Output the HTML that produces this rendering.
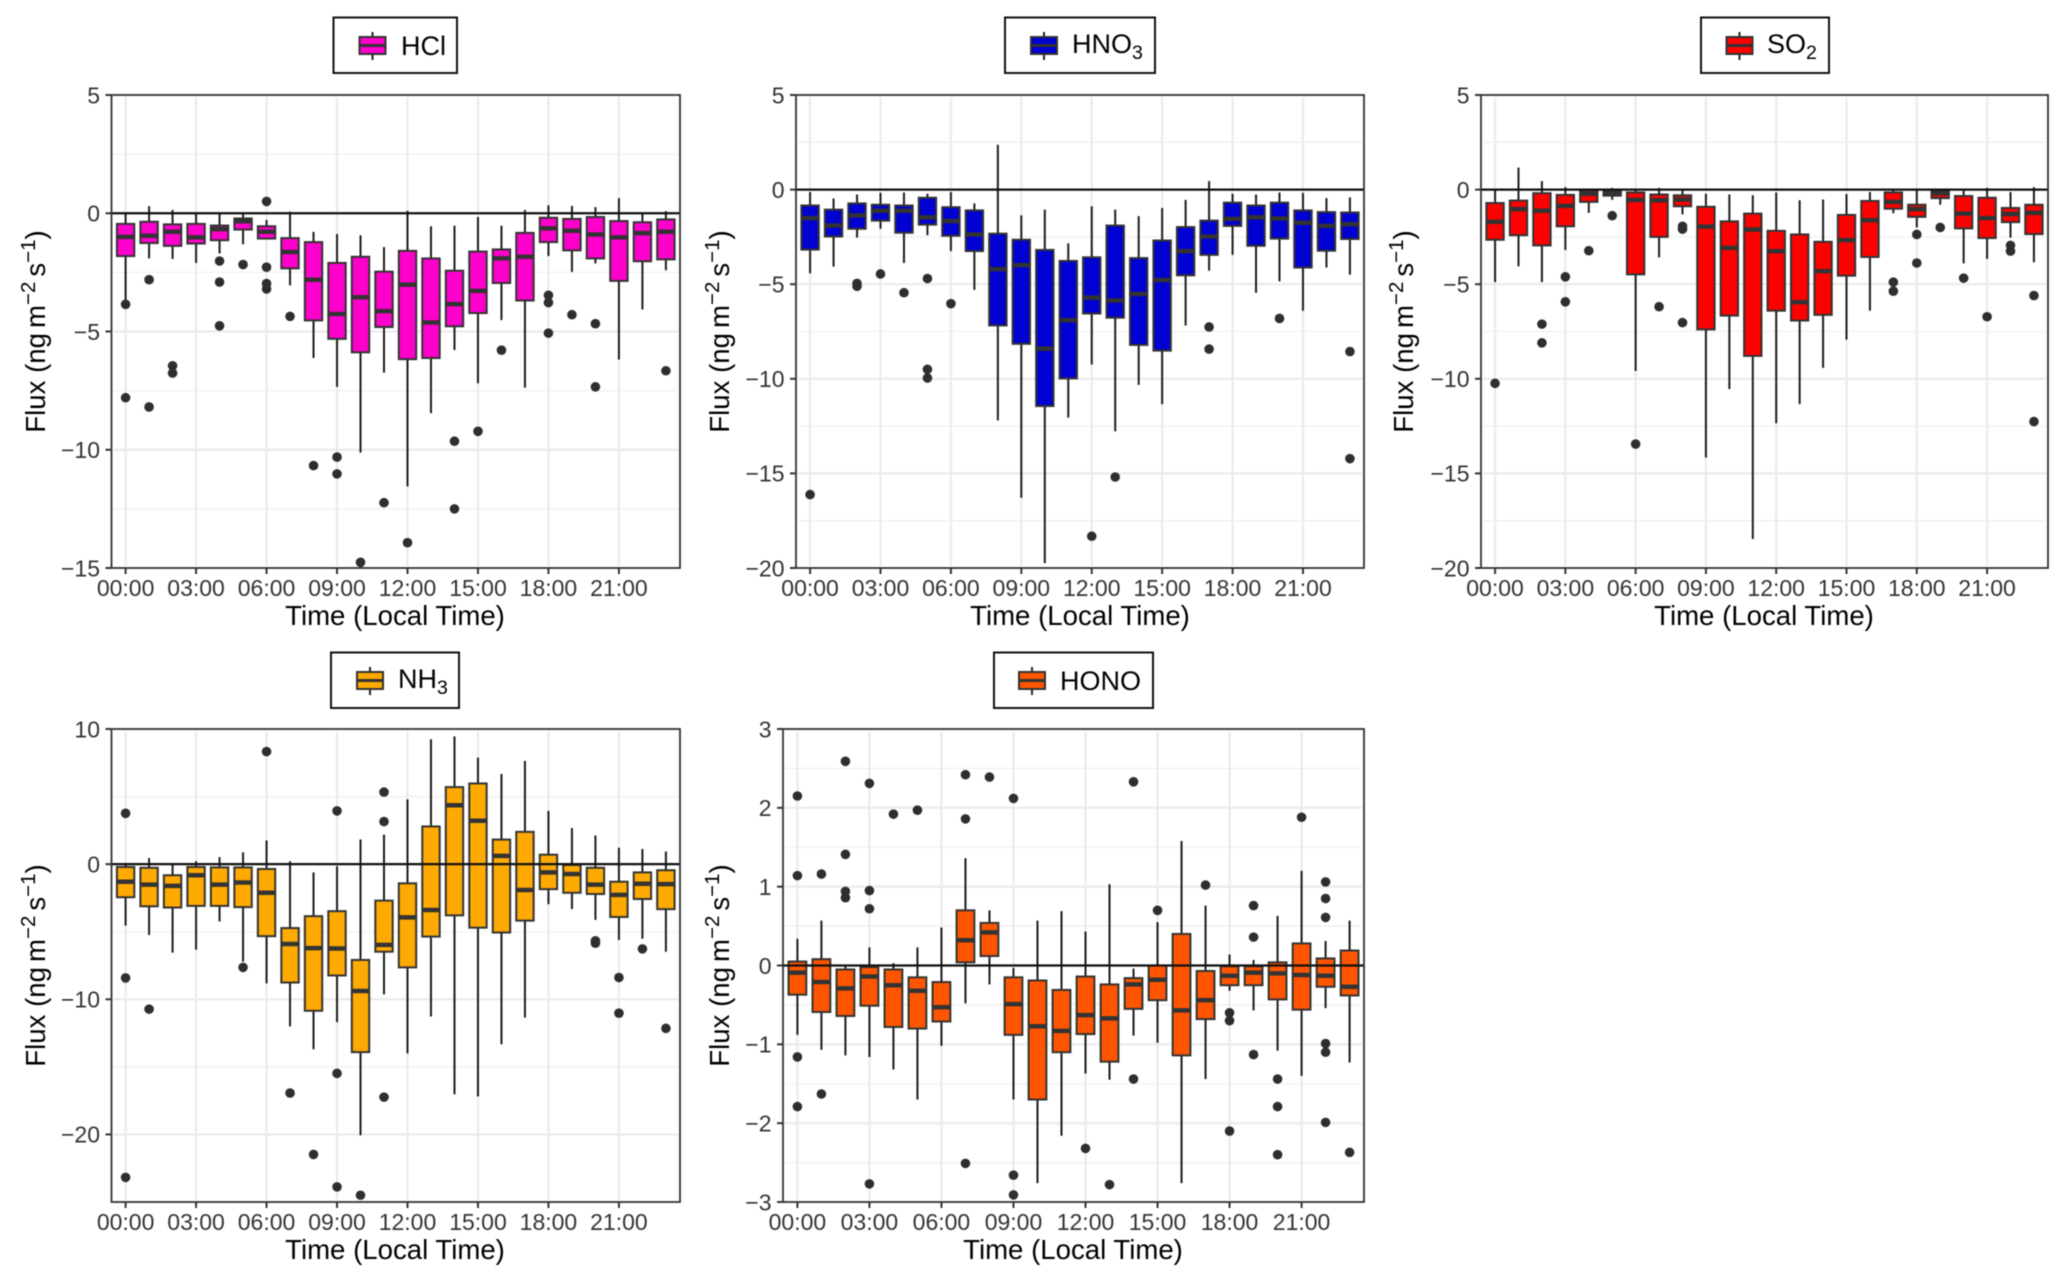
<!DOCTYPE html>
<html lang="en">
<head>
<meta charset="utf-8">
<title>Diurnal flux box plots</title>
<style>
html,body{margin:0;padding:0;background:#fff;}
svg{display:block;font-family:"Liberation Sans",Arial,sans-serif;filter:blur(0.45px);}
.legend-frame{fill:#fff;stroke:#111;stroke-width:2;}
.legend-text{font-size:27px;fill:#000;}
.axis-title{font-size:27.6px;fill:#000;}
</style>
</head>
<body>
<svg id="chart" xmlns="http://www.w3.org/2000/svg" width="2067" height="1283" viewBox="0 0 2067 1283">
  <rect width="2067" height="1283" fill="#fff"/>

  <g>
    <g id="plot-hcl"></g>
    <g>
      <rect class="legend-frame" x="333.5" y="17.5" width="123.5" height="55.5"/>
      <line x1="372.5" x2="372.5" y1="32" y2="60" stroke="#222" stroke-width="2"/>
      <rect x="359.5" y="37" width="26" height="17" fill="#ff00cc" stroke="#333" stroke-width="2"/>
      <line x1="359.5" x2="385.5" y1="45.5" y2="45.5" stroke="#333" stroke-width="3"/>
      <text class="legend-text" x="401" y="55">HCl</text>
    </g>
    <text class="axis-title" text-anchor="middle" transform="translate(45 331.5) rotate(-90)">Flux (ng<tspan dx="5">m</tspan><tspan dy="-10" font-size="20.5">−2</tspan><tspan dy="10" dx="5">s</tspan><tspan dy="-10" font-size="20.5">−1</tspan><tspan dy="10">)</tspan></text>
    <text class="axis-title" text-anchor="middle" x="395" y="625">Time (Local Time)</text>
  </g>

  <g>
    <g id="plot-hno3"></g>
    <g>
      <rect class="legend-frame" x="1005" y="17.5" width="150" height="55.5"/>
      <line x1="1044" x2="1044" y1="32" y2="60" stroke="#222" stroke-width="2"/>
      <rect x="1031" y="37" width="26" height="17" fill="#0000d2" stroke="#333" stroke-width="2"/>
      <line x1="1031" x2="1057" y1="45.5" y2="45.5" stroke="#333" stroke-width="3"/>
      <text class="legend-text" x="1072" y="53">HNO<tspan dy="6" font-size="19.5">3</tspan></text>
    </g>
    <text class="axis-title" text-anchor="middle" transform="translate(729 331.5) rotate(-90)">Flux (ng<tspan dx="5">m</tspan><tspan dy="-10" font-size="20.5">−2</tspan><tspan dy="10" dx="5">s</tspan><tspan dy="-10" font-size="20.5">−1</tspan><tspan dy="10">)</tspan></text>
    <text class="axis-title" text-anchor="middle" x="1080" y="625">Time (Local Time)</text>
  </g>

  <g>
    <g id="plot-so2"></g>
    <g>
      <rect class="legend-frame" x="1701" y="17.5" width="128" height="55.5"/>
      <line x1="1739.5" x2="1739.5" y1="32" y2="60" stroke="#222" stroke-width="2"/>
      <rect x="1726.5" y="37" width="26" height="17" fill="#ff0000" stroke="#333" stroke-width="2"/>
      <line x1="1726.5" x2="1752.5" y1="45.5" y2="45.5" stroke="#333" stroke-width="3"/>
      <text class="legend-text" x="1767" y="53">SO<tspan dy="6" font-size="19.5">2</tspan></text>
    </g>
    <text class="axis-title" text-anchor="middle" transform="translate(1413 331.5) rotate(-90)">Flux (ng<tspan dx="5">m</tspan><tspan dy="-10" font-size="20.5">−2</tspan><tspan dy="10" dx="5">s</tspan><tspan dy="-10" font-size="20.5">−1</tspan><tspan dy="10">)</tspan></text>
    <text class="axis-title" text-anchor="middle" x="1764" y="625">Time (Local Time)</text>
  </g>

  <g>
    <g id="plot-nh3"></g>
    <g>
      <rect class="legend-frame" x="331" y="652.5" width="128" height="55.5"/>
      <line x1="370" x2="370" y1="667" y2="695" stroke="#222" stroke-width="2"/>
      <rect x="357" y="672" width="26" height="17" fill="#ffaa00" stroke="#333" stroke-width="2"/>
      <line x1="357" x2="383" y1="680.5" y2="680.5" stroke="#333" stroke-width="3"/>
      <text class="legend-text" x="398" y="688">NH<tspan dy="6" font-size="19.5">3</tspan></text>
    </g>
    <text class="axis-title" text-anchor="middle" transform="translate(45 965.5) rotate(-90)">Flux (ng<tspan dx="5">m</tspan><tspan dy="-10" font-size="20.5">−2</tspan><tspan dy="10" dx="5">s</tspan><tspan dy="-10" font-size="20.5">−1</tspan><tspan dy="10">)</tspan></text>
    <text class="axis-title" text-anchor="middle" x="395" y="1259">Time (Local Time)</text>
  </g>

  <g>
    <g id="plot-hono"></g>
    <g>
      <rect class="legend-frame" x="994" y="652.5" width="159" height="55.5"/>
      <line x1="1032" x2="1032" y1="667" y2="695" stroke="#222" stroke-width="2"/>
      <rect x="1019" y="672" width="26" height="17" fill="#ff5500" stroke="#333" stroke-width="2"/>
      <line x1="1019" x2="1045" y1="680.5" y2="680.5" stroke="#333" stroke-width="3"/>
      <text class="legend-text" x="1060" y="690">HONO</text>
    </g>
    <text class="axis-title" text-anchor="middle" transform="translate(729 965.5) rotate(-90)">Flux (ng<tspan dx="5">m</tspan><tspan dy="-10" font-size="20.5">−2</tspan><tspan dy="10" dx="5">s</tspan><tspan dy="-10" font-size="20.5">−1</tspan><tspan dy="10">)</tspan></text>
    <text class="axis-title" text-anchor="middle" x="1073" y="1259">Time (Local Time)</text>
  </g>
</svg>

<script>
/* shared x categories */
const hourCount = 24;
const xTickHours = [0, 3, 6, 9, 12, 15, 18, 21];
const xTickLabels = ["00:00", "03:00", "06:00", "09:00", "12:00", "15:00", "18:00", "21:00"];

/* HCl */
const hclTicks = [5, 0, -5, -10, -15];
const hclWhiskerHigh = [0, .3, .14, 0, 0, 0, -.29, .07, -.79, -.88, -.93, -1.43, .1, -.55, -.53, -.16, -.53, .14, .34, .31, .26, .64, .03, .09];
const hclQ3 = [-.45, -.36, -.47, -.45, -.52, -.22, -.55, -1.05, -1.22, -2.1, -1.84, -2.47, -1.59, -1.91, -2.43, -1.62, -1.53, -.83, -.19, -.24, -.16, -.33, -.38, -.26];
const hclMedian = [-1, -.95, -.78, -1.02, -.67, -.34, -.78, -1.64, -2.81, -4.26, -3.55, -4.14, -3.02, -4.62, -3.84, -3.28, -1.91, -1.84, -.64, -.74, -.9, -1.02, -.84, -.78];
const hclQ1 = [-1.81, -1.26, -1.38, -1.28, -1.14, -.69, -1.07, -2.33, -4.53, -5.31, -5.88, -4.81, -6.17, -6.12, -4.78, -4.22, -2.95, -3.69, -1.22, -1.57, -1.91, -2.86, -2.03, -1.95];
const hclWhiskerLow = [-3.8, -1.91, -1.93, -2.1, -1.7, -1.31, -1.07, -3.05, -6.12, -7.34, -10.12, -6.74, -11.55, -8.45, -5.78, -7.19, -4.52, -7.38, -1.81, -2.48, -2.12, -6.19, -4.07, -2.41];
const hclOutliers = [[-3.85, -7.8], [-2.81, -8.19], [-6.45, -6.76], [], [-2.02, -2.91, -4.76], [-2.17], [.5, -2.28, -2.97, -3.2], [-4.36], [-10.67], [-10.31, -11.02], [-14.76], [-12.24], [-13.93], [], [-9.64, -12.5], [-9.22], [-5.79], [], [-3.47, -3.78, -5.07], [-4.29], [-4.67, -7.34], [], [], [-6.66]];

/* HNO3 */
const hno3Ticks = [5, 0, -5, -10, -15, -20];
const hno3WhiskerHigh = [-.13, -.47, -.26, -.17, -.15, -.22, -.13, -.73, 2.37, -1.36, -1.06, -2.84, -.88, -1.06, -1.4, -.97, -.54, .45, -.22, -.26, -.15, -.17, -.45, -.41];
const hno3Q3 = [-.84, -1.06, -.73, -.8, -.84, -.43, -.93, -1.1, -2.33, -2.65, -3.19, -3.77, -3.58, -1.9, -3.62, -2.69, -1.98, -1.64, -.69, -.84, -.69, -1.1, -1.19, -1.21];
const hno3Median = [-1.51, -1.9, -1.36, -1.12, -1.12, -1.47, -1.66, -2.37, -4.2, -3.99, -8.41, -6.9, -5.71, -5.86, -5.52, -4.78, -3.25, -2.48, -1.55, -1.47, -1.53, -1.75, -1.92, -1.83];
const hno3Q1 = [-3.17, -2.48, -2.07, -1.64, -2.28, -1.85, -2.44, -3.25, -7.18, -8.15, -11.44, -9.98, -6.55, -6.77, -8.21, -8.51, -4.53, -3.45, -1.92, -2.97, -2.59, -4.12, -3.23, -2.61];
const hno3WhiskerLow = [-4.42, -4.07, -2.54, -2.07, -3.88, -2.41, -3.25, -5.3, -12.2, -16.29, -19.74, -12.05, -9.25, -12.78, -10.32, -11.34, -7.18, -4.29, -3.45, -5.45, -4.85, -6.4, -4.12, -4.5];
const hno3Outliers = [[-16.12], [], [-4.96, -5.11], [-4.46], [-5.45], [-4.7, -9.5, -9.96], [-6.03], [], [], [], [], [], [-18.32], [-15.19], [], [], [], [-7.26, -8.43], [], [], [-6.81], [], [], [-8.56, -14.22]];

/* SO2 */
const so2Ticks = [5, 0, -5, -10, -15, -20];
const so2WhiskerHigh = [0, 1.16, .45, .13, 0, .09, 0, .09, 0, -.22, -.26, -.3, -.15, -.56, -.52, -.24, -.13, 0, 0, 0, -.04, .09, -.13, .13];
const so2Q3 = [-.71, -.58, -.19, -.28, -.04, 0, -.15, -.26, -.3, -.91, -1.68, -1.27, -2.18, -2.37, -2.76, -1.34, -.6, -.15, -.8, -.04, -.34, -.43, -.97, -.8];
const so2Median = [-1.7, -1.03, -1.12, -.86, -.22, -.17, -.54, -.56, -.52, -1.96, -3.08, -2.11, -3.25, -5.95, -4.31, -2.67, -1.62, -.65, -1.03, -.2, -1.27, -1.51, -1.29, -1.23];
const so2Q1 = [-2.65, -2.41, -2.95, -1.94, -.65, -.32, -4.48, -2.5, -.88, -7.39, -6.66, -8.79, -6.4, -6.92, -6.62, -4.55, -3.56, -1.01, -1.44, -.45, -2.05, -2.56, -1.72, -2.35];
const so2WhiskerLow = [-4.89, -4.05, -4.89, -3.19, -1.23, -.54, -9.59, -3.58, -1.31, -14.16, -10.54, -18.47, -12.35, -11.34, -9.42, -7.93, -6.4, -1.25, -2, -.8, -3.9, -3.66, -2.54, -3.84];
const so2Outliers = [[-10.24], [], [-7.11, -8.1], [-4.61, -5.93], [-3.23], [-1.38], [-13.45], [-6.19], [-1.94, -2.09, -7.03], [], [], [], [], [], [], [], [], [-4.89, -5.37], [-2.37, -3.88], [-2], [-4.68], [-6.72], [-2.95, -3.25], [-5.6, -12.26]];

/* NH3 */
const nh3Ticks = [10, 0, -10, -20];
const nh3WhiskerHigh = [0, .45, 0, .21, .52, .88, 1.76, .21, -.61, -.15, 1.82, 2.18, 4.79, 9.24, 9.45, 7.88, 6.67, 7.64, 3.94, 2.67, 2.12, 1.21, 1.12, .94];
const nh3Q3 = [-.21, -.27, -.82, -.21, -.24, -.24, -.36, -4.73, -3.85, -3.48, -7.09, -2.7, -1.42, 2.79, 5.7, 5.97, 1.82, 2.39, .7, -.06, -.27, -1.3, -.61, -.45];
const nh3Median = [-1.3, -1.52, -1.61, -.82, -1.52, -1.36, -2.12, -5.91, -6.21, -6.24, -9.39, -5.97, -3.94, -3.39, 4.36, 3.21, .61, -1.91, -.61, -.73, -1.52, -2.27, -1.45, -1.48];
const nh3Q1 = [-2.45, -3.12, -3.21, -3.09, -3.09, -3.18, -5.33, -8.76, -10.85, -8.24, -13.91, -6.48, -7.64, -5.36, -3.79, -4.7, -5.06, -4.18, -1.85, -2.12, -2.21, -3.91, -2.58, -3.33];
const nh3WhiskerLow = [-4.55, -5.24, -6.55, -6.33, -4.24, -7.21, -8.82, -12, -13.7, -11.7, -20.06, -9.64, -14, -11.27, -17.03, -17.18, -13.33, -11.36, -2.97, -3.33, -4.12, -5.61, -5.52, -6.48];
const nh3Outliers = [[3.76, -8.42, -23.18], [-10.73], [], [], [], [-7.64], [8.33], [-16.94], [-21.48], [3.94, -15.48, -23.88], [-24.5], [5.33, 3.15, -17.24], [], [], [], [], [], [], [], [], [-5.67, -5.85], [-8.39, -11.03], [-6.27], [-12.15]];

/* HONO */
const honoTicks = [3, 2, 1, 0, -1, -2, -3];
const honoWhiskerHigh = [.34, .57, 0, .23, .03, .23, .48, 1.36, .7, -.03, .57, .69, .43, 1.03, -.04, .55, 1.58, .76, .14, .07, .63, 1.2, .31, .57];
const honoQ3 = [.05, .08, -.05, -.02, -.05, -.15, -.21, .7, .54, -.15, -.19, -.31, -.14, -.24, -.16, 0, .4, -.07, -.01, -.01, .04, .28, .09, .19];
const honoMedian = [-.09, -.21, -.29, -.14, -.25, -.32, -.53, .32, .42, -.49, -.77, -.83, -.63, -.67, -.24, -.18, -.57, -.44, -.13, -.09, -.1, -.12, -.13, -.27];
const honoQ1 = [-.37, -.59, -.64, -.51, -.78, -.8, -.71, .04, .12, -.88, -1.7, -1.1, -.87, -1.22, -.55, -.44, -1.14, -.68, -.25, -.25, -.43, -.56, -.27, -.38];
const honoWhiskerLow = [-.88, -1.07, -1.14, -1.16, -1.32, -1.7, -1.02, -.48, -.24, -1.7, -2.76, -2.16, -1.37, -1.45, -.89, -.98, -2.76, -1.44, -.32, -.57, -1.08, -1.4, -.54, -1.23];
const honoOutliers = [[2.15, 1.14, -1.16, -1.79], [1.16, -1.63], [2.59, 1.41, .94, .86], [2.31, .95, .72, -2.77], [1.92], [1.97], [], [2.42, 1.86, -2.51], [2.39], [2.12, -2.66, -2.91], [], [], [-2.32], [-2.78], [2.33, -1.44], [.7], [], [1.02], [-.6, -.7, -2.1], [.76, .36, -1.13], [-1.44, -1.79, -2.4], [1.88], [1.06, .85, .61, -.99, -1.1, -1.99], [-2.37]];

const SVG_NS = "http://www.w3.org/2000/svg";

function make(parent, tag, geometry) {
  const el = document.createElementNS(SVG_NS, tag);
  for (const key in geometry) {
    el.setAttribute(key, geometry[key]);
  }
  
  parent.appendChild(el);
  return el;
}

function tickText(v) {
  return v < 0 ? "\u2212" + Math.abs(v) : String(v);
}

function drawPanel(p) {
  const g = document.getElementById(p.id);
  const width = p.right - p.left;
  const step = width / (hourCount - 1 + 1.2);
  const boxWidth = step * 0.74;
  const yMax = p.ticks[0];
  const scaleX = function (hour) { return p.left + (hour + 0.6) * step; };
  const scaleY = function (value) { return p.top + (yMax - value) / (yMax - p.yMin) * (p.bottom - p.top); };

  /* minor y grid */
  for (let i = 0; i + 1 < p.ticks.length; i++) {
    const y = scaleY((p.ticks[i] + p.ticks[i + 1]) / 2);
    const minor = make(g, 'line', { x1: p.left + 2, x2: p.right - 2, y1: y, y2: y, stroke: '#f0f0f0', 'stroke-width': 1.3 });
    
  }
  /* major y grid */
  p.ticks.forEach(function (t) {
    const y = scaleY(t);
    if (y <= p.top + 1 || y >= p.bottom - 1) return;
    const major = make(g, 'line', { x1: p.left + 2, x2: p.right - 2, y1: y, y2: y, stroke: '#ebebeb', 'stroke-width': 2.2 });
    
  });
  /* vertical grid */
  xTickHours.forEach(function (h) {
    const x = scaleX(h);
    const vertical = make(g, 'line', { x1: x, x2: x, y1: p.top + 2, y2: p.bottom - 2, stroke: '#ebebeb', 'stroke-width': 2.2 });
    
  });

  /* boxes */
  for (let h = 0; h < hourCount; h++) {
    const x = scaleX(h);
    const whisker = make(g, 'line', { x1: x, x2: x, y1: scaleY(p.whiskerHigh[h]), y2: scaleY(p.whiskerLow[h]), stroke: '#1c1c1c', 'stroke-width': 2 });
    
    const top = scaleY(p.q3[h]);
    const bottom = scaleY(p.q1[h]);
    const box = make(g, 'rect', { x: x - boxWidth / 2, y: top, width: boxWidth, height: bottom - top, fill: p.color, stroke: '#333', 'stroke-width': 2 });
    
    const my = scaleY(p.median[h]);
    const median = make(g, 'line', { x1: x - boxWidth / 2, x2: x + boxWidth / 2, y1: my, y2: my, stroke: '#333', 'stroke-width': 4.5 });
    
    p.outliers[h].forEach(function (v) {
      const dot = make(g, 'circle', { cx: x, cy: scaleY(v), r: 4.8, fill: '#2e2e2e' });
      
    });
  }

  /* zero reference line */
  const zero = make(g, 'line', { x1: p.left, x2: p.right, y1: scaleY(0), y2: scaleY(0), stroke: '#111', 'stroke-width': 2.2 });
  

  /* panel border */
  const border = make(g, 'rect', { x: p.left, y: p.top, width: width, height: p.bottom - p.top, fill: 'none', stroke: '#333', 'stroke-width': 1.8 });
  

  /* y axis */
  p.ticks.forEach(function (t) {
    const y = scaleY(t);
    const tick = make(g, 'line', { x1: p.left - 6, x2: p.left, y1: y, y2: y, stroke: '#333', 'stroke-width': 2 });
    
    const label = make(g, 'text', { x: p.left - 11.5, y: y + 8.3, 'text-anchor': 'end', 'font-size': 23, fill: '#333' });
    
    label.textContent = tickText(t);
  });

  /* x axis */
  xTickHours.forEach(function (h, i) {
    const x = scaleX(h);
    const tick = make(g, 'line', { x1: x, x2: x, y1: p.bottom, y2: p.bottom + 6, stroke: '#333', 'stroke-width': 2 });
    
    const label = make(g, 'text', { x: x, y: p.bottom + 28, 'text-anchor': 'middle', 'font-size': 23, fill: '#333' });
    
    label.textContent = xTickLabels[i];
  });
}

drawPanel({ id: 'plot-hcl', left: 111.5, right: 680, top: 95, bottom: 568, yMin: -15, color: '#ff00cc', ticks: hclTicks, whiskerHigh: hclWhiskerHigh, q3: hclQ3, median: hclMedian, q1: hclQ1, whiskerLow: hclWhiskerLow, outliers: hclOutliers });
drawPanel({ id: 'plot-hno3', left: 796, right: 1364, top: 95, bottom: 568, yMin: -20, color: '#0000d2', ticks: hno3Ticks, whiskerHigh: hno3WhiskerHigh, q3: hno3Q3, median: hno3Median, q1: hno3Q1, whiskerLow: hno3WhiskerLow, outliers: hno3Outliers });
drawPanel({ id: 'plot-so2', left: 1481, right: 2048, top: 95, bottom: 568, yMin: -20, color: '#ff0000', ticks: so2Ticks, whiskerHigh: so2WhiskerHigh, q3: so2Q3, median: so2Median, q1: so2Q1, whiskerLow: so2WhiskerLow, outliers: so2Outliers });
drawPanel({ id: 'plot-nh3', left: 111.5, right: 680, top: 729, bottom: 1202, yMin: -25, color: '#ffaa00', ticks: nh3Ticks, whiskerHigh: nh3WhiskerHigh, q3: nh3Q3, median: nh3Median, q1: nh3Q1, whiskerLow: nh3WhiskerLow, outliers: nh3Outliers });
drawPanel({ id: 'plot-hono', left: 783, right: 1364, top: 729, bottom: 1202, yMin: -3, color: '#ff5500', ticks: honoTicks, whiskerHigh: honoWhiskerHigh, q3: honoQ3, median: honoMedian, q1: honoQ1, whiskerLow: honoWhiskerLow, outliers: honoOutliers });
</script>
</body>
</html>
